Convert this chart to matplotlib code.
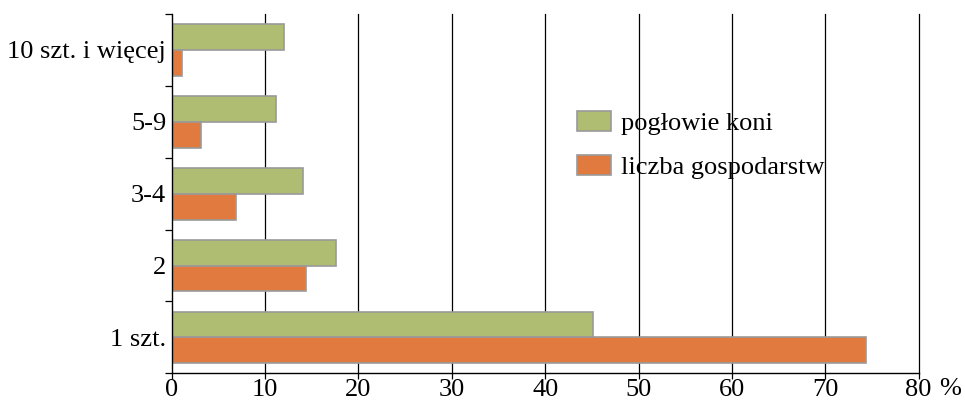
import matplotlib
matplotlib.use("Agg")
import matplotlib.pyplot as plt
import numpy as np

plt.rcParams['font.family'] = ['Liberation Serif', 'DejaVu Serif']

# dane (%), od dołu do góry
kategorie = ['1 szt.', '2', '3-4', '5-9', '10 szt. i więcej']
poglowie_koni = [45.1, 17.6, 14.1, 11.2, 12.0]
liczba_gospodarstw = [74.4, 14.4, 6.9, 3.1, 1.1]
x_ticks = [0, 10, 20, 30, 40, 50, 60, 70, 80]

green = '#aebd72'
orange = '#e07a3e'
edge = '#9a9a9a'

fig = plt.figure(figsize=(9.65, 4.01), dpi=100)
ax = fig.add_axes([0.178, 0.069, 0.774, 0.896])

y = np.arange(len(kategorie))
h = 0.36
ax.barh(y + h / 2, poglowie_koni, height=h, color=green, edgecolor=edge,
        linewidth=1.2, label='pogłowie koni', zorder=3)
ax.barh(y - h / 2, liczba_gospodarstw, height=h, color=orange, edgecolor=edge,
        linewidth=1.2, label='liczba gospodarstw', zorder=3)

ax.set_xlim(0, 80)
ax.set_ylim(-0.5, len(kategorie) - 0.5)

# siatka pionowa
for v in x_ticks[1:]:
    ax.axvline(v, color='black', linewidth=0.9, zorder=1, clip_on=False)
ax.axvline(0, color='black', linewidth=1.0, zorder=4, clip_on=False)

ax.set_xticks(x_ticks)
ax.set_xticklabels([str(v) for v in x_ticks], fontsize=19)
ax.tick_params(axis='x', direction='out', length=4, width=0.9, pad=0)
ax.annotate('%', xy=(80, 0), xycoords=('data', 'axes fraction'),
            xytext=(15, -3.5), textcoords='offset points', fontsize=19,
            ha='left', va='top')

ax.set_yticks(y)
ax.set_yticklabels(kategorie, fontsize=19)
ax.set_yticks(np.arange(-0.5, len(kategorie), 1.0), minor=True)
ax.tick_params(axis='y', which='major', length=0, pad=4)
ax.tick_params(axis='y', which='minor', direction='out', length=5, width=0.9)

for s in ['top', 'right', 'left']:
    ax.spines[s].set_visible(False)
ax.spines['bottom'].set_linewidth(1.0)

ax.legend(loc='upper left', bbox_to_anchor=(0.542, 0.73), frameon=False,
          fontsize=19, borderpad=0, borderaxespad=0, handlelength=1.3,
          handleheight=0.8, handletextpad=0.4, labelspacing=0.75)

fig.savefig('out.png', dpi=100)
